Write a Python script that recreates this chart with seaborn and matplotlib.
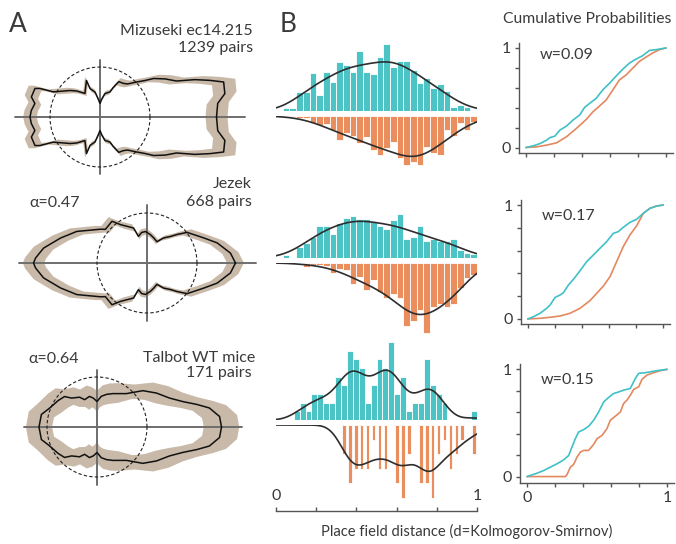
import numpy as np
import matplotlib
matplotlib.use("Agg")
import matplotlib.pyplot as plt
import seaborn as sns

# ---------------------------------------------------------------- data
# Panel A: angular profiles, upper half (degrees, radius in units of the dashed circle)
ang_mizuseki = [0, 6.6, 10.6, 15.8, 18.4, 21.5, 25.2, 30.3, 35.7, 39.0, 43.8, 50.2, 55.0, 62.0,
                66.0, 68.2, 78.0, 85.0, 90.0, 95.0, 101.3, 109.3, 110.3, 122.6, 132.0, 138.5,
                151.7, 154.6, 156.3, 163.7, 168.3, 174.6, 180]
rad_mizuseki = [2.33, 2.37, 2.54, 2.57, 2.32, 2.04, 1.69, 1.51, 1.32, 1.16, 1.01, 0.86, 0.82, 0.80,
                0.64, 0.54, 0.48, 0.35, 0.27, 0.35, 0.51, 0.60, 0.78, 0.56, 0.70, 0.80,
                1.06, 1.33, 1.42, 1.43, 1.33, 1.38, 1.40]
ang_jezek = [0, 6.8, 16.0, 23.9, 37.3, 43.5, 48.4, 56.6, 65.0, 75.0, 83.0, 92.7, 100.0, 107.8,
             111.0, 124.5, 130.0, 141.0, 144.0, 155.8, 163.9, 171.8, 177.4, 180]
rad_jezek = [1.77, 1.68, 1.46, 1.24, 1.01, 0.83, 0.71, 0.60, 0.47, 0.52, 0.57, 0.63, 0.62, 0.56,
             0.75, 0.93, 1.09, 1.07, 1.15, 1.54, 1.80, 2.09, 2.23, 2.27]
ang_talbot = [0, 4.9, 9.6, 12.7, 16.5, 21.8, 29.7, 38.4, 48.6, 64.5, 73.7, 82.0, 90.0, 97.0,
              103.8, 114.4, 120.3, 131.3, 136.8, 145.8, 158.2, 167.3, 180]
rad_talbot = [2.49, 2.46, 2.28, 2.05, 1.79, 1.56, 1.37, 1.17, 0.89, 0.74, 0.68, 0.62, 0.51, 0.58,
              0.63, 0.60, 0.69, 0.77, 0.89, 0.94, 1.02, 1.14, 1.16]
band_rel = [0.09, 0.09, 0.07]      # relative half-width of the confidence band
band_abs = [0.01, 0.01, 0.18]      # absolute half-width of the confidence band

dataset_names = ["Mizuseki ec14.215", "Jezek", "Talbot WT mice"]
pair_labels = ["1239 pairs", "668 pairs", "171 pairs"]
alpha_labels = [None, "\u03b1=0.47", "\u03b1=0.64"]
w_labels = ["w=0.09", "w=0.17", "w=0.15"]

# Panel B histograms (bin heights; rows 1-2: 30 bins, row 3: 34 bins, counts)
hist_up_1 = [0, 3, 3, 19, 19, 38, 16, 39, 29, 49, 46, 39, 60, 39, 37, 54, 67, 44, 50, 50,
             41, 28, 33, 23, 27, 20, 4, 6, 4, 1]
hist_dn_1 = [0, 1, 1, 2, 2, 7, 9, 8, 14, 24, 17, 20, 27, 21, 34, 39, 32, 26, 42, 49,
             46, 49, 31, 37, 39, 14, 20, 7, 14, 6]
hist_up_2 = [0, 2.7, 0.5, 11, 15, 21, 32, 32, 24, 35, 40, 42, 39, 39, 36, 32, 29, 38, 44, 19,
             21, 32, 17, 19, 17, 17, 19, 8, 5, 4]
hist_dn_2 = [0, 0, 0, 0, 4, 1.5, 1.5, 2.5, 10, 6, 7, 21, 14, 27, 17, 29, 35, 31, 35, 63,
             58, 47, 70, 44, 41, 44, 41, 25, 15, 12]
hist_up_3 = [0, 0, 0, 1, 2, 1, 3, 3, 2, 2, 5, 4, 8, 7, 6, 2, 4, 7, 6, 9, 3, 5, 1, 2, 2,
             7, 4, 3, 2, 0, 0, 0, 0, 1]
hist_dn_3 = [0, 0, 0, 0, 0, 0, 0, 0, 0, 0, 0, 2, 4, 3, 3, 3, 1, 3, 3, 0, 4, 5, 2, 0, 4,
             4, 5, 2, 1, 3, 2, 1, 0, 2]

# Panel B cumulative probabilities
cdf_up_x_1 = [0, 0.052, 0.10, 0.147, 0.171, 0.206, 0.242, 0.289, 0.336, 0.384, 0.419, 0.455,
              0.502, 0.549, 0.597, 0.645, 0.692, 0.739, 0.787, 0.834, 0.882, 0.929, 1.0]
cdf_up_y_1 = [0, 0.017, 0.04, 0.074, 0.10, 0.114, 0.175, 0.215, 0.276, 0.327, 0.404, 0.444,
              0.495, 0.58, 0.646, 0.72, 0.788, 0.848, 0.889, 0.923, 0.976, 0.983, 1.0]
cdf_dn_x_1 = [0, 0.076, 0.147, 0.218, 0.289, 0.36, 0.431, 0.479, 0.526, 0.573, 0.621, 0.668,
              0.716, 0.763, 0.81, 0.858, 0.905, 0.953, 1.0]
cdf_dn_y_1 = [0, 0.007, 0.024, 0.047, 0.108, 0.192, 0.283, 0.36, 0.418, 0.478, 0.58, 0.68,
              0.73, 0.798, 0.865, 0.909, 0.949, 0.983, 1.0]
cdf_up_x_2 = [0, 0.042, 0.091, 0.14, 0.165, 0.202, 0.238, 0.263, 0.30, 0.337, 0.386, 0.435,
              0.484, 0.533, 0.582, 0.631, 0.668, 0.705, 0.754, 0.803, 0.853, 0.902, 0.951, 1.0]
cdf_up_y_2 = [0, 0.02, 0.05, 0.094, 0.123, 0.19, 0.21, 0.23, 0.298, 0.348, 0.424, 0.503,
              0.561, 0.62, 0.678, 0.751, 0.766, 0.804, 0.848, 0.874, 0.927, 0.971, 0.991, 1.0]
cdf_dn_x_2 = [0, 0.091, 0.165, 0.238, 0.312, 0.386, 0.459, 0.509, 0.558, 0.607, 0.656, 0.705,
              0.754, 0.803, 0.853, 0.902, 0.951, 1.0]
cdf_dn_y_2 = [0, 0.006, 0.015, 0.026, 0.05, 0.094, 0.161, 0.225, 0.289, 0.371, 0.503, 0.635,
              0.737, 0.816, 0.927, 0.971, 0.991, 1.0]
cdf_up_x_3 = [0, 0.036, 0.071, 0.119, 0.167, 0.214, 0.262, 0.298, 0.321, 0.345, 0.369, 0.405,
              0.44, 0.476, 0.512, 0.548, 0.583, 0.619, 0.643, 0.69, 0.738, 0.774, 0.798, 0.845,
              0.929, 1.0]
cdf_up_y_3 = [0, 0.016, 0.031, 0.056, 0.088, 0.119, 0.156, 0.197, 0.275, 0.353, 0.416, 0.438,
              0.469, 0.525, 0.603, 0.697, 0.738, 0.775, 0.784, 0.806, 0.822, 0.916, 0.963, 0.969,
              0.988, 1.0]
cdf_dn_x_3 = [0, 0.274, 0.286, 0.31, 0.333, 0.357, 0.381, 0.405, 0.44, 0.476, 0.5, 0.536,
              0.571, 0.595, 0.631, 0.667, 0.69, 0.714, 0.738, 0.762, 0.798, 0.821, 0.857, 0.905,
              0.952, 1.0]
cdf_dn_y_3 = [0, 0, 0.019, 0.088, 0.113, 0.181, 0.228, 0.244, 0.244, 0.30, 0.353, 0.384,
              0.447, 0.525, 0.563, 0.603, 0.681, 0.713, 0.759, 0.813, 0.838, 0.906, 0.947, 0.969,
              0.988, 1.0]

# ---------------------------------------------------------------- style
TEAL = "#4cc4c5"
ORANGE = "#e98e5c"
TEAL_LINE = "#3fc1c6"
ORANGE_LINE = "#e2895f"
BAND = "#c9b9a8"
INK = "#3a3a3a"
AXIS = "#555555"
FS = 11.5

sns.set_theme(style="white")
plt.rcParams["font.family"] = ["Lato", "DejaVu Sans"]
plt.rcParams["text.color"] = INK
plt.rcParams["xtick.color"] = AXIS
plt.rcParams["ytick.color"] = AXIS
plt.rcParams["xtick.labelcolor"] = INK
plt.rcParams["ytick.labelcolor"] = INK

W, H = 676, 544
fig = plt.figure(figsize=(W / 100, H / 100), dpi=100)


def px_axes(x0, y0, x1, y1):
    return fig.add_axes([x0 / W, 1 - y1 / H, (x1 - x0) / W, (y1 - y0) / H])


def px_text(x, y, s, ha="left", va="baseline", size=FS, **kw):
    fig.text(x / W, 1 - y / H, s, ha=ha, va=va, fontsize=size, color=INK, **kw)


# ---------------------------------------------------------------- panel A
UNIT = 50.0  # pixels per circle radius
shapes = [(ang_mizuseki, rad_mizuseki), (ang_jezek, rad_jezek), (ang_talbot, rad_talbot)]
centers = [(100, 117), (147, 263), (97, 427)]
boxes_y = [(55, 182), (196, 334), (355, 495)]


def closed_xy(ang, rad):
    a = np.deg2rad(np.asarray(ang, float))
    r = np.asarray(rad, float)
    a_full = np.concatenate([a, 2 * np.pi - a[::-1]])
    r_full = np.concatenate([r, r[::-1]])
    return r_full * np.cos(a_full), r_full * np.sin(a_full)


for i, (ang, rad) in enumerate(shapes):
    cx, cy = centers[i]
    y0, y1 = boxes_y[i]
    ax = px_axes(0, y0, 270, y1)
    ax.set_xlim(-cx / UNIT, (270 - cx) / UNIT)
    ax.set_ylim(-(y1 - cy) / UNIT, (cy - y0) / UNIT)
    ax.axis("off")

    r = np.asarray(rad, float)
    r_hi = r * (1 + band_rel[i]) + band_abs[i]
    r_lo = np.clip(r * (1 - band_rel[i]) - band_abs[i], 0, None)
    ox, oy = closed_xy(ang, r_hi)
    ix, iy = closed_xy(ang, r_lo)
    ax.fill(ox, oy, color=BAND, lw=0, zorder=1)
    ax.fill(ix, iy, color="white", lw=0, zorder=1.1)

    x, y = closed_xy(ang, rad)
    ax.plot([x.min() - 0.3, x.max() + 0.4], [0, 0], color="#6e6e6e", lw=1.4, zorder=2)
    ax.plot([0, 0], [-1.15, 1.15], color="#6e6e6e", lw=1.4, zorder=2)
    t = np.linspace(0, 2 * np.pi, 240)
    ax.plot(np.cos(t), np.sin(t), color="#222222", lw=0.8, ls=(0, (3, 2)), zorder=3)
    ax.plot(x, y, color="#111111", lw=1.1, zorder=4)

px_text(9, 32, "A", size=19)
px_text(253, 35, dataset_names[0], ha="right")
px_text(253, 52, pair_labels[0], ha="right")
px_text(252, 188, dataset_names[1], ha="right")
px_text(252, 206, pair_labels[1], ha="right")
px_text(29, 207, alpha_labels[1])
px_text(255, 362, dataset_names[2], ha="right")
px_text(252, 377, pair_labels[2], ha="right")
px_text(28, 363, alpha_labels[2])

# ---------------------------------------------------------------- panel B: histograms
HX0, HX1 = 276, 477
hist_rows = [
    dict(up=hist_up_1, dn=hist_dn_1, up_box=(36, 111), dn_box=(116, 176), up_top=75, dn_top=60,
         bw=0.75, shrink_dn=1.0),
    dict(up=hist_up_2, dn=hist_dn_2, up_box=(198, 258), dn_box=(263, 337), up_top=60, dn_top=74,
         bw=0.75, shrink_dn=1.0),
    dict(up=hist_up_3, dn=hist_dn_3, up_box=(338, 420), dn_box=(425, 500), up_top=82 / 8.67,
         dn_top=75 / 14.5, bw=0.5, shrink_dn=0.6),
]


def draw_hist(ax, values, color, bw, shrink):
    n = len(values)
    centers_ = (np.arange(n) + 0.5) / n
    sns.histplot(x=centers_, weights=values, bins=n, binrange=(0, 1), stat="count",
                 kde=True, kde_kws=dict(bw_adjust=bw, cut=5, clip=(0, 1)),
                 color=color, alpha=1, edgecolor="white", linewidth=0.6, shrink=shrink,
                 line_kws=dict(lw=1.2), ax=ax)
    for ln in ax.lines:
        ln.set_color("#2e2e2e")
    ax.set_xlim(0, 1)
    ax.axis("off")


for row in hist_rows:
    ax_up = px_axes(HX0, row["up_box"][0], HX1, row["up_box"][1])
    draw_hist(ax_up, row["up"], TEAL, row["bw"], 1.0)
    ax_up.set_ylim(0, row["up_top"])
    ax_dn = px_axes(HX0, row["dn_box"][0], HX1, row["dn_box"][1])
    draw_hist(ax_dn, row["dn"], ORANGE, row["bw"], row["shrink_dn"])
    ax_dn.set_ylim(row["dn_top"], 0)

ax_x = px_axes(HX0, 511, HX1, 522)
ax_x.set_xlim(0, 1)
ax_x.set_ylim(0, 1)
for s in ["left", "right", "bottom"]:
    ax_x.spines[s].set_visible(False)
ax_x.spines["top"].set_color(AXIS)
ax_x.spines["top"].set_linewidth(1.0)
ax_x.xaxis.tick_top()
ax_x.set_xticks(np.linspace(0, 1, 6))
ax_x.set_xticklabels(["0", "", "", "", "", "1"])
ax_x.set_yticks([])
ax_x.tick_params(axis="x", direction="out", length=3, width=1, labelsize=FS, pad=3)
ax_x.set_facecolor("none")

px_text(280, 32, "B", size=19)
px_text(467, 536, "Place field distance (d=Kolmogorov-Smirnov)", ha="center", size=10.6)

# ---------------------------------------------------------------- panel B: cumulative
cdf_rows = [
    dict(box=(519, 43, 673, 153), ylim=(-0.055, 1.05),
         up=(cdf_up_x_1, cdf_up_y_1), dn=(cdf_dn_x_1, cdf_dn_y_1), xlabels=False),
    dict(box=(521, 200, 670, 324), ylim=(-0.044, 1.044),
         up=(cdf_up_x_2, cdf_up_y_2), dn=(cdf_dn_x_2, cdf_dn_y_2), xlabels=False),
    dict(box=(520, 364, 674, 483), ylim=(-0.06, 1.05),
         up=(cdf_up_x_3, cdf_up_y_3), dn=(cdf_dn_x_3, cdf_dn_y_3), xlabels=True),
]

for i, row in enumerate(cdf_rows):
    ax = px_axes(*row["box"])
    sns.lineplot(x=row["dn"][0], y=row["dn"][1], color=ORANGE_LINE, lw=1.2,
                 estimator=None, sort=False, ax=ax)
    sns.lineplot(x=row["up"][0], y=row["up"][1], color=TEAL_LINE, lw=1.2,
                 estimator=None, sort=False, ax=ax)
    ax.set_xlim(-0.05, 1.05)
    ax.set_ylim(*row["ylim"])
    ax.set_xticks(np.linspace(0, 1, 6))
    ax.set_yticks(np.linspace(0, 1, 6))
    ax.set_yticklabels(["0", "", "", "", "", "1"])
    ax.set_xticklabels(["0", "", "", "", "", "1"] if row["xlabels"] else [""] * 6)
    ax.tick_params(direction="out", length=3, width=1, labelsize=FS, pad=3,
                   bottom=True, left=True)
    for s in ["top", "right"]:
        ax.spines[s].set_visible(False)
    for s in ["left", "bottom"]:
        ax.spines[s].set_color(AXIS)
        ax.spines[s].set_linewidth(1.0)
    ax.set_xlabel("")
    ax.set_ylabel("")
    ax.text(0.1, 0.93 if i == 0 else 0.9, w_labels[i], fontsize=FS, color=INK,
            transform=ax.transData, va="center")

px_text(587, 23, "Cumulative Probabilities", ha="center", size=11.3)

fig.savefig("out.png", dpi=100)
